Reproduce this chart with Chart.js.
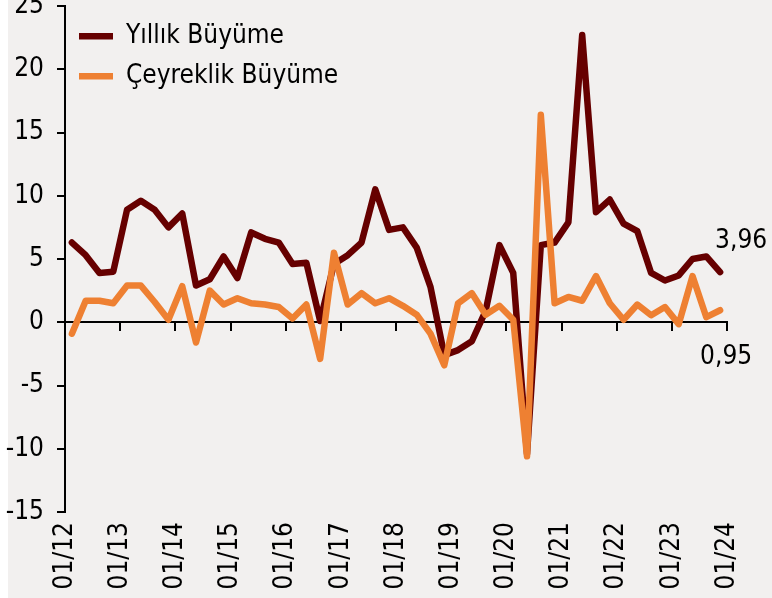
<!DOCTYPE html>
<html lang="tr">
<head>
<meta charset="utf-8">
<script src="https://cdn.jsdelivr.net/npm/chart.js@4.4.1/dist/chart.umd.min.js"></script>
<style>
  html, body { margin: 0; padding: 0; background: #fff; }
  #grafik { display: block; background: linear-gradient(to right, #fff 0, #fff 8px, #F2F0EF 8px); }
</style>
</head>
<body>
<canvas id="grafik" width="772" height="598"></canvas>
<script>
// Çeyrekler (2012 Ç1 - 2023 Ç4)
const ceyrekler = [
  '2012Ç1', '2012Ç2', '2012Ç3', '2012Ç4', '2013Ç1', '2013Ç2', '2013Ç3', '2013Ç4',
  '2014Ç1', '2014Ç2', '2014Ç3', '2014Ç4', '2015Ç1', '2015Ç2', '2015Ç3', '2015Ç4',
  '2016Ç1', '2016Ç2', '2016Ç3', '2016Ç4', '2017Ç1', '2017Ç2', '2017Ç3', '2017Ç4',
  '2018Ç1', '2018Ç2', '2018Ç3', '2018Ç4', '2019Ç1', '2019Ç2', '2019Ç3', '2019Ç4',
  '2020Ç1', '2020Ç2', '2020Ç3', '2020Ç4', '2021Ç1', '2021Ç2', '2021Ç3', '2021Ç4',
  '2022Ç1', '2022Ç2', '2022Ç3', '2022Ç4', '2023Ç1', '2023Ç2', '2023Ç3', '2023Ç4'
];

// Yıllık büyüme (%)
const yillikBuyume = [
  6.3, 5.3, 3.9, 4.0, 8.9, 9.6, 8.9, 7.5,
  8.6, 2.9, 3.4, 5.2, 3.5, 7.1, 6.6, 6.3,
  4.6, 4.7, 0.1, 4.6, 5.3, 6.3, 10.5, 7.3,
  7.5, 5.9, 2.8, -2.6, -2.2, -1.5, 0.9, 6.1,
  3.9, -10.4, 6.1, 6.3, 7.9, 22.7, 8.7, 9.7,
  7.8, 7.2, 3.9, 3.3, 3.7, 5.0, 5.2, 3.96
];

// Çeyreklik büyüme (%)
const ceyreklikBuyume = [
  -0.9, 1.7, 1.7, 1.5, 2.9, 2.9, 1.6, 0.2,
  2.85, -1.6, 2.5, 1.4, 1.9, 1.5, 1.4, 1.2,
  0.3, 1.4, -2.9, 5.5, 1.4, 2.3, 1.5, 1.9,
  1.3, 0.6, -0.9, -3.4, 1.5, 2.3, 0.6, 1.3,
  0.2, -10.6, 16.4, 1.5, 2.0, 1.7, 3.65, 1.5,
  0.2, 1.4, 0.55, 1.2, -0.15, 3.65, 0.4, 0.95
];

// Eksen etiketleri (yıl başları)
const eksenEtiketleri = ['01/12', '01/13', '01/14', '01/15', '01/16', '01/17', '01/18',
  '01/19', '01/20', '01/21', '01/22', '01/23', '01/24'];

const yaziTipi = '"DejaVu Sans Condensed", "DejaVu Sans", sans-serif';
Chart.defaults.font.family = yaziTipi;
Chart.defaults.font.size = 26;
Chart.defaults.color = '#000';

// Yıl başı tikleri: çeyrek sınırlarında
function yilTikleri(scale) {
  scale.ticks = eksenEtiketleri.map((e, k) => ({ value: k * 4 - 0.5 }));
}

function virgul(v) {
  return v.toFixed(2).replace('.', ',');
}

// Son değer etiketleri
const sonDegerEtiketi = {
  id: 'sonDeger',
  afterDatasetsDraw(chart) {
    const ctx = chart.ctx;
    const m0 = chart.getDatasetMeta(0);
    const m1 = chart.getDatasetMeta(1);
    const p0 = m0.data[m0.data.length - 1];
    const p1 = m1.data[m1.data.length - 1];
    ctx.save();
    ctx.font = '26px ' + yaziTipi;
    ctx.fillStyle = '#000';
    ctx.textAlign = 'center';
    ctx.textBaseline = 'middle';
    ctx.fillText(virgul(yillikBuyume[yillikBuyume.length - 1]), p0.x + 21, p0.y - 31);
    ctx.fillText(virgul(ceyreklikBuyume[ceyreklikBuyume.length - 1]), p1.x + 6, p1.y + 47);
    ctx.restore();
  }
};

new Chart(document.getElementById('grafik'), {
  type: 'line',
  data: {
    datasets: [
      {
        label: 'Yıllık Büyüme',
        data: yillikBuyume.map((v, i) => ({ x: i, y: v })),
        borderColor: '#660000',
        backgroundColor: '#660000',
        borderWidth: 6.5,
        borderCapStyle: 'round',
        borderJoinStyle: 'round',
        pointRadius: 0,
        tension: 0,
        order: 1
      },
      {
        label: 'Çeyreklik Büyüme',
        data: ceyreklikBuyume.map((v, i) => ({ x: i, y: v })),
        borderColor: '#EE8032',
        backgroundColor: '#EE8032',
        borderWidth: 6.5,
        borderCapStyle: 'round',
        borderJoinStyle: 'round',
        pointRadius: 0,
        tension: 0,
        order: 0
      }
    ]
  },
  options: {
    responsive: false,
    animation: false,
    layout: { padding: { top: 6, right: 45, left: 0, bottom: 0 } },
    plugins: {
      legend: {
        position: 'chartArea',
        align: 'start',
        title: { display: true, text: '', font: { size: 1 }, padding: { top: 8, bottom: 0 } },
        labels: {
          usePointStyle: true,
          pointStyle: 'line',
          pointStyleWidth: 34,
          padding: 14,
          sort: (a, b) => a.datasetIndex - b.datasetIndex
        }
      },
      tooltip: { enabled: false }
    },
    scales: {
      x: {
        type: 'linear',
        position: 'bottom',
        min: -0.5,
        max: 47.5,
        grid: { display: false, drawTicks: false },
        border: { display: false },
        afterBuildTicks: yilTikleri,
        afterFit: s => { s.height = 86; s.paddingLeft = 0; s.paddingRight = 0; },
        ticks: {
          autoSkip: false,
          maxRotation: 90,
          minRotation: 90,
          padding: 10,
          callback: v => eksenEtiketleri[Math.round((v + 0.5) / 4)]
        }
      },
      x0: {
        type: 'linear',
        position: { y: 0 },
        min: -0.5,
        max: 47.5,
        afterBuildTicks: yilTikleri,
        grid: { drawOnChartArea: false, tickLength: 8, lineWidth: 2, color: '#000' },
        border: { color: '#000', width: 2 },
        ticks: { display: false }
      },
      y: {
        min: -15,
        max: 25,
        ticks: { stepSize: 5, padding: 13 },
        grid: { drawOnChartArea: false, tickLength: 8, lineWidth: 2, color: '#000' },
        border: { color: '#000', width: 2 },
        afterFit: s => { s.width = 65; s.paddingTop = 0; s.paddingBottom = 0; }
      }
    }
  },
  plugins: [sonDegerEtiketi]
});
</script>
</body>
</html>
